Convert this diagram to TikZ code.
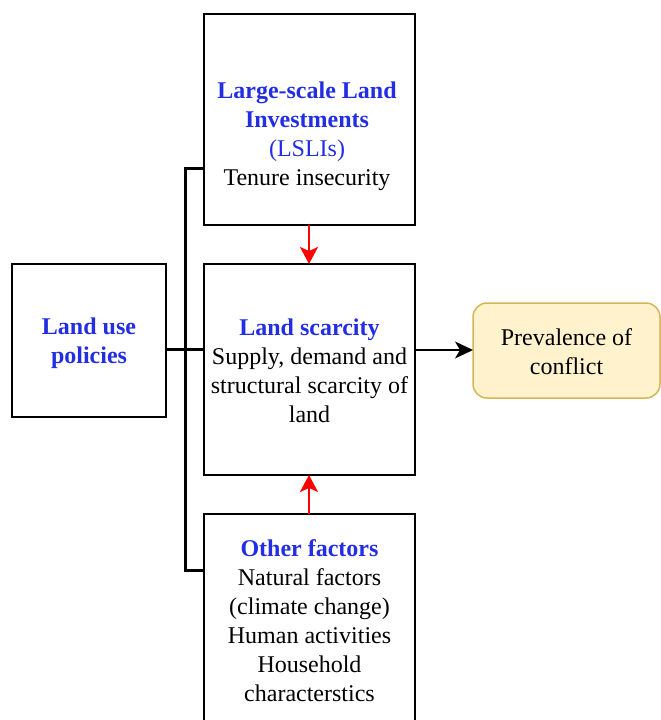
\documentclass[tikz,border=0pt]{standalone}
\usepackage{fontspec}
\setmainfont{Liberation Serif}
\usetikzlibrary{arrows.meta}
\definecolor{ttlblue}{RGB}{35,45,225}
\definecolor{confill}{HTML}{FFF2CC}
\definecolor{condraw}{HTML}{D6B656}
\tikzset{
  box/.style={draw=black, line width=1.5pt, inner sep=0pt, outer sep=0pt, rectangle},
  txt/.style={align=center, font=\fontsize{24pt}{29pt}\selectfont, inner sep=0pt},
  redarr/.style={draw=red, line width=2pt, -{Stealth[length=17pt,width=18pt,inset=4pt]}},
  blkarr/.style={draw=black, line width=1.5pt, -{Stealth[length=18pt,width=17pt,inset=5pt]}},
  brk/.style={draw=black, line width=3pt}
}
\begin{document}
\begin{tikzpicture}[x=1pt,y=-1pt]
\useasboundingbox (0,0) rectangle (661,720);
% boxes
\node[box, minimum width=211pt, minimum height=211pt] (top) at (309.5,119.5) {};
\node[box, minimum width=211pt, minimum height=211pt] (mid) at (309.5,369.5) {};
\node[box, minimum width=211pt, minimum height=211pt] (bot) at (309.5,619.5) {};
\node[box, minimum width=154pt, minimum height=153pt] (left) at (89,340.5) {};
\node[box, draw=condraw, fill=confill, rounded corners=14pt, minimum width=187pt, minimum height=95pt] (right) at (566.5,350.5) {};
% texts
\node[txt] (toptxt) at (307,136) {\textcolor{ttlblue}{\textbf{Large-scale Land}}\\\textcolor{ttlblue}{\textbf{Investments}}\\\textcolor{ttlblue}{(LSLIs)}\\Tenure insecurity};
\node[txt] (midtxt) at (309.5,371) {\textcolor{ttlblue}{\textbf{Land scarcity}}\\Supply, demand and\\structural scarcity of\\land};
\node[txt] (bottxt) at (309.5,621) {\textcolor{ttlblue}{\textbf{Other factors}}\\Natural factors\\(climate change)\\Human activities\\Household\\characterstics};
\node[txt] (lefttxt) at (89,343) {\textcolor{ttlblue}{\textbf{Land use}}\\\textcolor{ttlblue}{\textbf{policies}}};
\node[txt] (righttxt) at (566.5,351.5) {Prevalence of\\conflict};
% bracket
\coordinate (brT) at (185,168);
\coordinate (brB) at (185,570);
\coordinate (brM) at (185,349);
\draw[brk] (top.west |- brT) -- (brT) -- (brB) -- (bot.west |- brB);
\draw[brk] (left.east |- brM) -- (mid.west |- brM);
% arrows
\coordinate (redX) at (309,0);
\draw[redarr] (top.south -| redX) -- (mid.north -| redX);
\draw[redarr] (bot.north -| redX) -- (mid.south -| redX);
\coordinate (arY) at (0,350);
\draw[blkarr] (mid.east |- arY) -- (right.west |- arY);
\end{tikzpicture}
\end{document}
